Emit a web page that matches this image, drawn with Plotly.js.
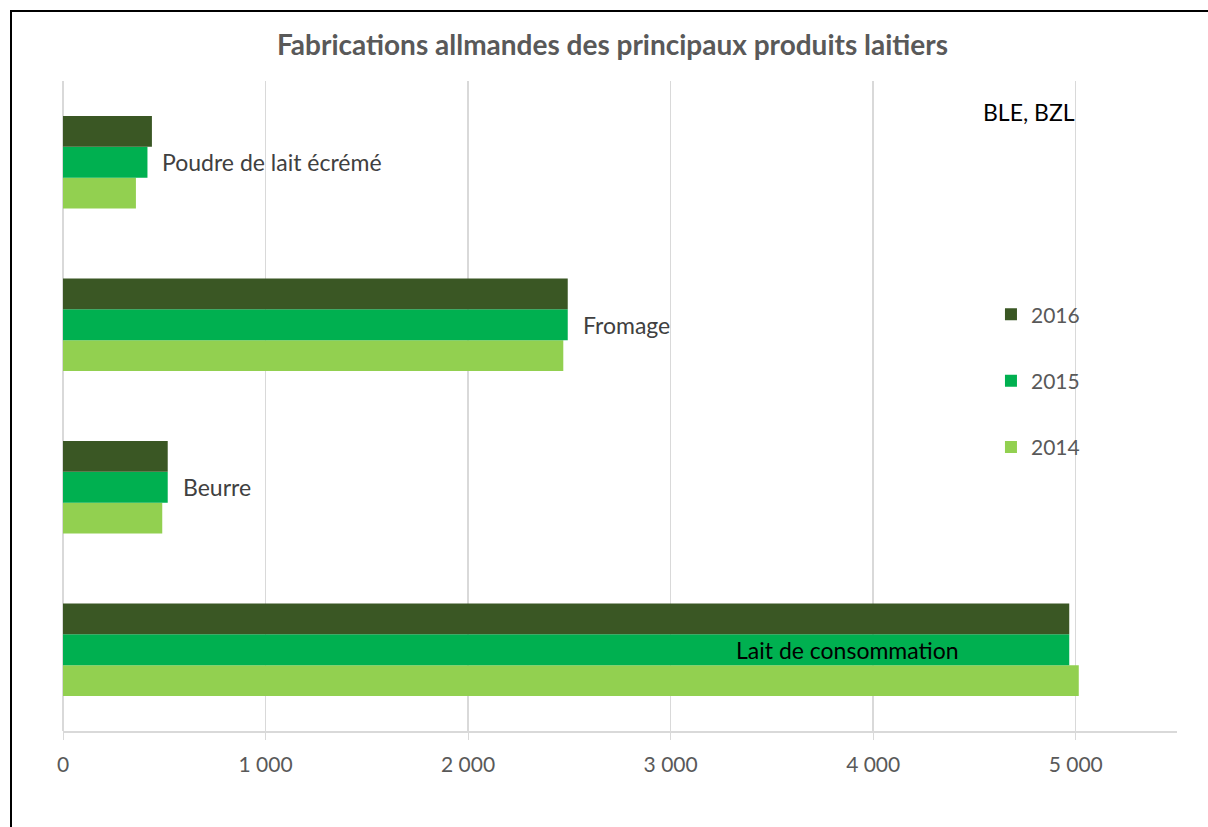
<!DOCTYPE html>
<html>
<head>
<meta charset="utf-8">
<script src="https://cdn.plot.ly/plotly-3.0.1.min.js"></script>
<style>
html,body{margin:0;padding:0;background:#fff;overflow:hidden;}
#chart{width:1208px;height:827px;position:absolute;left:0;top:0;}
#frame{position:absolute;left:10px;top:10px;width:1300px;height:900px;border:2px solid #000;pointer-events:none;}
</style>
</head>
<body>
<div id="chart"></div>
<div id="frame"></div>
<script>
const categories = ['Lait de consommation', 'Beurre', 'Fromage', 'Poudre de lait écrémé'];
const years = ['2014', '2015', '2016'];
const values2014 = [5015, 490, 2470, 360];
const values2015 = [4968, 517, 2492, 417];
const values2016 = [4968, 517, 2492, 439];
const xTicks = [0, 1000, 2000, 3000, 4000, 5000];
const titleText = 'Fabrications allmandes des principaux produits laitiers';
const sourceText = 'BLE, BZL';

const colors = {'2014': '#92D050', '2015': '#00B050', '2016': '#3A5724'};
const seriesValues = {'2014': values2014, '2015': values2015, '2016': values2016};
const FONT = 'Lato, "Open Sans", sans-serif';

const traces = years.map((y, i) => ({
  type: 'bar',
  orientation: 'h',
  name: y,
  legendgroup: y,
  legendrank: years.length - i,
  y: categories,
  x: seriesValues[y],
  marker: {color: colors[y], line: {width: 0}},
  hoverinfo: 'x+name'
}));

const annotations = categories.map((c, i) => {
  const inside = i === 0;
  return {
    xref: 'x', yref: 'y',
    x: values2015[i], y: c,
    text: c,
    showarrow: false,
    xanchor: inside ? 'right' : 'left',
    xshift: inside ? -108 : 13,
    font: {family: FONT, size: 23, color: inside ? '#000000' : '#404040'}
  };
});
annotations.push({
  xref: 'paper', yref: 'paper',
  x: 1.0, y: 1.0,
  xanchor: 'right', yanchor: 'middle',
  xshift: -100, yshift: -31,
  text: sourceText,
  showarrow: false,
  font: {family: FONT, size: 23, color: '#000000'}
});

const layout = {
  width: 1208, height: 827,
  margin: {l: 63, r: 31, t: 81, b: 96},
  paper_bgcolor: '#ffffff',
  plot_bgcolor: '#ffffff',
  title: {
    text: '<b>' + titleText + '</b>',
    x: 0.507, xanchor: 'center',
    y: 0.945, yanchor: 'middle',
    font: {family: FONT, size: 28, color: '#595959'}
  },
  barmode: 'group',
  bargap: 0.43,
  bargroupgap: 0,
  xaxis: {
    range: [0, 5500],
    tickvals: xTicks,
    separatethousands: true,
    showgrid: true,
    gridcolor: '#D9D9D9',
    gridwidth: 1.5,
    zeroline: true,
    zerolinecolor: '#D9D9D9',
    zerolinewidth: 1.5,
    showline: true,
    linecolor: '#D9D9D9',
    linewidth: 1.5,
    ticks: 'outside',
    ticklen: 7,
    tickcolor: '#D9D9D9',
    ticklabelstandoff: 7,
    tickfont: {family: FONT, size: 21, color: '#595959'},
    fixedrange: true
  },
  yaxis: {
    type: 'category',
    categoryorder: 'array',
    categoryarray: categories,
    showticklabels: false,
    showgrid: false,
    zeroline: false,
    showline: false,
    ticks: '',
    fixedrange: true
  },
  showlegend: true,
  legend: {
    x: 0.833, xanchor: 'left',
    y: 0.672, yanchor: 'top',
    traceorder: 'grouped',
    tracegroupgap: 36,
    font: {family: FONT, size: 21, color: '#595959'},
    bgcolor: 'rgba(0,0,0,0)'
  },
  annotations: annotations,
  separators: ', '
};

Plotly.newPlot('chart', traces, layout, {displayModeBar: false, staticPlot: true});
</script>
</body>
</html>
